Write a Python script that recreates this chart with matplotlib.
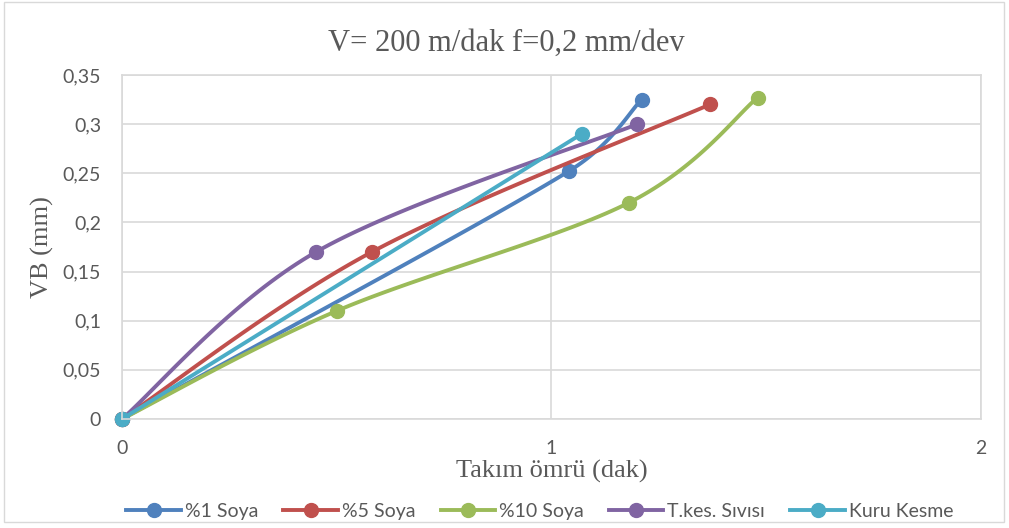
"""
Tool wear (VB) vs tool life, Excel-style smoothed scatter.
"""

import numpy as np
import matplotlib
matplotlib.use('Agg')
import matplotlib.pyplot as plt
from matplotlib.patches import Rectangle

series_names = ['%1 Soya', '%5 Soya', '%10 Soya', 'T.kes. Sıvısı', 'Kuru Kesme']
x_soya1 = [0, 1.04, 1.21]
y_soya1 = [0, 0.252, 0.325]
x_soya5 = [0, 0.582, 1.369]
y_soya5 = [0, 0.17, 0.32]
x_soya10 = [0, 0.50, 1.18, 1.48]
y_soya10 = [0, 0.11, 0.22, 0.327]
x_tkes = [0, 0.452, 1.20]
y_tkes = [0, 0.17, 0.30]
x_kuru = [0, 1.07]
y_kuru = [0, 0.29]

colors = ['#4F81BD', '#C0504D', '#9BBB59', '#8064A2', '#4BACC6']
xticks = [0, 1, 2]
yticks = [0, 0.05, 0.1, 0.15, 0.2, 0.25, 0.3, 0.35]
ytick_labels = ['0', '0,05', '0,1', '0,15', '0,2', '0,25', '0,3', '0,35']


def smooth_display(ax, xs, ys, n=40):
    # bezier smoothing in pixel space, like Excel; control arms capped
    pts = ax.transData.transform(np.column_stack([xs, ys]))
    if len(pts) < 3:
        return np.array(xs), np.array(ys)

    def arm(v, seg):
        L = np.hypot(*v)
        cap = seg / 2.
        return v if L <= cap else v * cap / L

    out = [pts[0]]
    t = np.linspace(0, 1, n)[1:, None]
    for i in range(len(pts) - 1):
        p0 = pts[i - 1] if i > 0 else pts[i]
        p1 = pts[i]
        p2 = pts[i + 1]
        p3 = pts[i + 2] if i + 2 < len(pts) else pts[i + 1]
        seg = np.hypot(*(p2 - p1))
        c1 = p1 + arm((p2 - p0) / 6., seg)
        c2 = p2 - arm((p3 - p1) / 6., seg)
        b = ((1 - t) ** 3) * p1 + 3 * ((1 - t) ** 2) * t * c1 \
            + 3 * (1 - t) * t ** 2 * c2 + t ** 3 * p2
        out.extend(b)
    back = ax.transData.inverted().transform(np.array(out))
    return back[:, 0], back[:, 1]


fig = plt.figure(figsize=(10.09, 5.28), dpi=100)
fig.patches.append(Rectangle((0.004, 0.012), 0.991, 0.984, transform=fig.transFigure,
                             fill=False, edgecolor='#D9D9D9', linewidth=1.0))
ax = fig.add_axes([0.1209, 0.2064, 0.8513, 0.6516])
ax.set_xlim(0, 2)
ax.set_ylim(0, 0.35)

tick_font = 'Lato'
ax.set_xticks(xticks)
ax.set_xticklabels([str(v) for v in xticks], fontsize=14, family=tick_font, color='#595959')
ax.set_yticks(yticks)
ax.set_yticklabels(ytick_labels, fontsize=14, family=tick_font, color='#595959')
ax.tick_params(axis='y', length=0, pad=15)
ax.tick_params(axis='x', length=0, pad=15)
ax.grid(True, color='#D9D9D9', linewidth=1.2)
ax.set_axisbelow(True)
for s in ax.spines.values():
    s.set_color('#D9D9D9')
    s.set_linewidth(1.2)

all_x = [x_soya1, x_soya5, x_soya10, x_tkes, x_kuru]
all_y = [y_soya1, y_soya5, y_soya10, y_tkes, y_kuru]
fig.canvas.draw()
for name, xs, ys, c in zip(series_names, all_x, all_y, colors):
    sx, sy = smooth_display(ax, xs, ys)
    ax.plot(sx, sy, color=c, linewidth=2.8, solid_capstyle='round', clip_on=False)
    ax.plot(xs, ys, 'o', color=c, markersize=10, clip_on=False)
    ax.plot([], [], '-o', color=c, linewidth=2.8, markersize=10, label=name)

fig.text(0.502, 0.918, 'V= 200 m/dak f=0,2 mm/dev', ha='center', va='center',
         fontsize=22, family='Liberation Serif', color='#595959')
ax.set_xlabel('Takım ömrü (dak)', fontsize=19, family='Liberation Serif',
              color='#595959', labelpad=2)
ax.set_ylabel('VB (mm)', fontsize=19, family='Liberation Serif',
              color='#595959', labelpad=6)

leg = fig.legend(loc='center', bbox_to_anchor=(0.535, 0.032), ncol=5, frameon=False,
                 prop={'family': tick_font, 'size': 14}, handlelength=2.8,
                 columnspacing=1.3, handletextpad=0.2, borderaxespad=0)
for t in leg.get_texts():
    t.set_color('#595959')

fig.savefig('out.png', dpi=100)
